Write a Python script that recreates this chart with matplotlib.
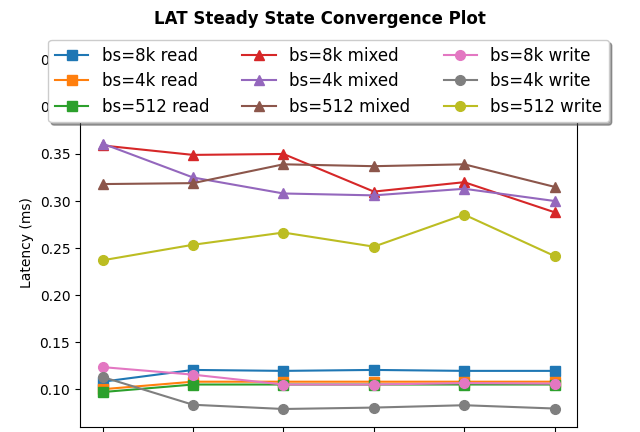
import matplotlib
matplotlib.use("Agg")
import matplotlib.pyplot as plt

# Datos (latencia en ms)
rondas = [1, 2, 3, 4, 5, 6]

lat_8k_read = [0.108, 0.1205, 0.1195, 0.1205, 0.1195, 0.1195]
lat_4k_read = [0.100, 0.108, 0.108, 0.108, 0.108, 0.108]
lat_512_read = [0.097, 0.105, 0.105, 0.105, 0.105, 0.105]

lat_8k_mixed = [0.359, 0.349, 0.350, 0.310, 0.320, 0.288]
lat_4k_mixed = [0.361, 0.325, 0.308, 0.306, 0.313, 0.300]
lat_512_mixed = [0.318, 0.319, 0.339, 0.337, 0.339, 0.315]

lat_8k_write = [0.1235, 0.1155, 0.105, 0.105, 0.1065, 0.106]
lat_4k_write = [0.113, 0.0835, 0.079, 0.0805, 0.083, 0.0795]
lat_512_write = [0.237, 0.2535, 0.2665, 0.2515, 0.2855, 0.2415]

series = [
    ("bs=8k read", lat_8k_read, "s"),
    ("bs=4k read", lat_4k_read, "s"),
    ("bs=512 read", lat_512_read, "s"),
    ("bs=8k mixed", lat_8k_mixed, "^"),
    ("bs=4k mixed", lat_4k_mixed, "^"),
    ("bs=512 mixed", lat_512_mixed, "^"),
    ("bs=8k write", lat_8k_write, "o"),
    ("bs=4k write", lat_4k_write, "o"),
    ("bs=512 write", lat_512_write, "o"),
]

fig = plt.figure(figsize=(6.4, 4.32), dpi=100)
# Los ejes bajan casi hasta el borde: las etiquetas del eje x no se ven
ax = fig.add_axes([0.125, 0.011, 0.777, 0.857])

for nombre, valores, marcador in series:
    ax.plot(rondas, valores, marker=marcador, markersize=7, label=nombre)

ax.set_xticks(rondas)
ax.tick_params(axis="x", labelbottom=False)
ax.set_ylim(0.0596, 0.453)
ax.set_ylabel("Latency (ms)")
fig.suptitle("LAT Steady State Convergence Plot", fontsize=12, fontweight="bold", y=0.978)
# La leyenda tapa la parte de arriba de los ejes
ax.legend(loc="upper center", ncol=3, fontsize=12, fancybox=True, shadow=True,
          labelspacing=0.45, borderaxespad=0,
          bbox_to_anchor=(0.5135, 1 - 40 / 432), bbox_transform=fig.transFigure)

fig.savefig("out.png", dpi=100)
